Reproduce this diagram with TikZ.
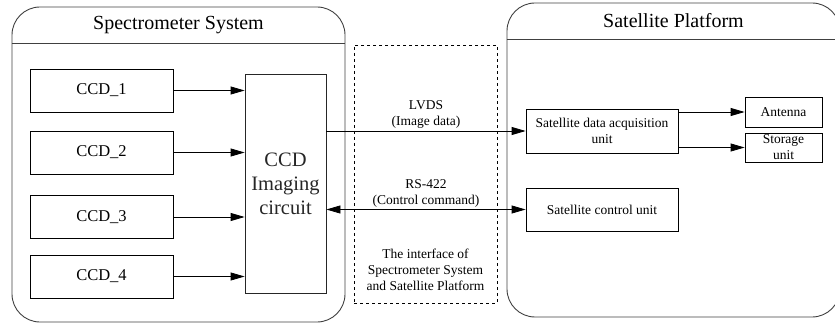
\documentclass[tikz,border=0pt]{standalone}
\usepackage{fontspec}
\setmainfont{Liberation Serif}
\usetikzlibrary{arrows.meta,positioning,calc}

\begin{document}
\begin{tikzpicture}[x = 1pt, y = -1pt, line width = 0.8pt, >={Triangle[length=14pt, width=8pt]},
    frame/.style = {draw, black!75, line width = 0.9pt, rounded corners = 28pt, inner sep = 0pt},
    block/.style = {draw, inner sep = 0pt, align = center, font = \fontsize{13.5}{16}\selectfont},
    ccd/.style = {block, minimum width = 143pt, minimum height = 43pt, font = \fontsize{16.5}{19}\selectfont},
    note/.style = {align = center, inner sep = 2pt, font = \fontsize{13.5}{16}\selectfont},
    heading/.style = {inner sep = 0pt, font = \fontsize{20}{24}\selectfont}]
    % Tamaño del lienzo, igual al de la figura original.
    \useasboundingbox (0, 0) rectangle (835, 323);

    % Altura de la cabecera de cada bloque grande.
    \pgfmathsetmacro{\headS}{37}
    \pgfmathsetmacro{\headP}{37}

    % Primero los dos contenedores con su título:
    \node[frame, minimum width = 333pt, minimum height = 315pt] (spec) at (178.5, 164.5) {};
    \draw[black!75, line width = 0.9pt] ([yshift = -\headS pt]spec.north west) coordinate (sl) -- ([yshift = -\headS pt]spec.north east) coordinate (sr);
    \node[heading] (spectitle) at ($(spec.north)!0.5!(spec.north |- sl)$) {Spectrometer System};

    % El de la derecha se sale un poco del borde de la figura.
    \node[frame, minimum width = 333pt, minimum height = 314pt] (sat) at (673.5, 160) {};
    \draw[black!75, line width = 0.9pt] ([yshift = -\headP pt]sat.north west) coordinate (pl) -- ([yshift = -\headP pt]sat.north east) coordinate (pr);
    \node[heading] (sattitle) at ($(sat.north)!0.5!(sat.north |- pl)$) {Satellite Platform};

    % Los sensores y el circuito de imagen.
    \node[ccd] (ccd1) at (101.5, 90.5) {CCD\_1};
    \node[ccd] (ccd2) at (101.5, 152.5) {CCD\_2};
    \node[ccd] (ccd3) at (101.5, 217) {CCD\_3};
    \node[ccd] (ccd4) at (101.5, 276.5) {CCD\_4};
    \node[block, black!85, minimum width = 81pt, minimum height = 219pt, font = \fontsize{20.5}{24}\selectfont] (img) at (285.5, 183.5) {CCD\\Imaging\\circuit};

    \draw[->] (ccd1) -- (ccd1 -| img.west);
    \draw[->] (ccd2) -- (ccd2 -| img.west);
    \draw[->] (ccd3) -- (ccd3 -| img.west);
    \draw[->] (ccd4) -- (ccd4 -| img.west);

    % Caja de la interfaz (discontinua).
    \node[draw, dashed, line width = 0.6pt, minimum width = 143pt, minimum height = 258pt] (iface) at (425.5, 174) {};
    \node[note] (ifacetext) at (425.5, 270) {The interface of\\Spectrometer System\\and Satellite Platform};

    % Unidades del satélite.
    \node[block, minimum width = 152pt, minimum height = 44pt] (acq) at (602, 131) {Satellite data acquisition\\unit};
    \node[block, minimum width = 152pt, minimum height = 43pt] (ctrl) at (602, 209.5) {Satellite control unit};
    \node[block, minimum width = 77pt, minimum height = 30pt] (ant) at (783.5, 112) {Antenna};
    \node[block, minimum width = 77pt, minimum height = 29pt] (stor) at (783.5, 147.5) {Storage\\unit};

    % Enlaces entre los dos sistemas.
    \draw[->] (acq.west -| img.east) -- (acq.west) node[note, midway, above] (lvds) {LVDS\\(Image data)};
    \draw[<->] (ctrl.west -| img.east) -- (ctrl.west) node[note, midway, above] (rs) {RS-422\\(Control command)};

    \draw[->] (ant.west -| acq.east) -- (ant.west);
    \draw[->] (stor.west -| acq.east) -- (stor.west);

\end{tikzpicture}
\end{document}
